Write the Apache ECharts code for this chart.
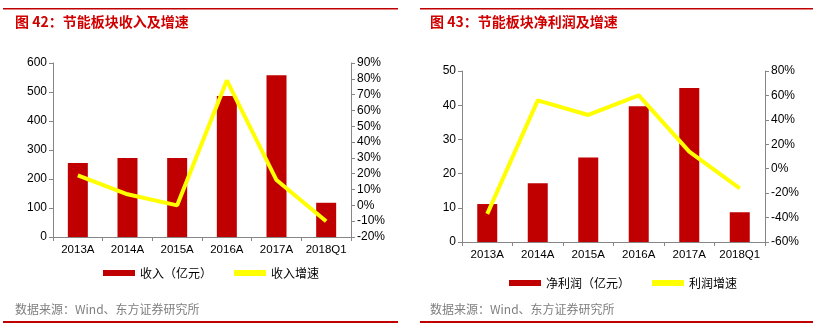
<!DOCTYPE html>
<html><head><meta charset="utf-8">
<script src="https://cdn.jsdelivr.net/npm/echarts@6/dist/echarts.min.js"></script>
<style>html,body{margin:0;padding:0;background:#fff}#c{width:820px;height:335px}</style>
</head><body><div id="c"></div>
<script>
const categories = ['2013A','2014A','2015A','2016A','2017A','2018Q1'];
const revenue = [255, 272, 272, 486, 558, 118];
const revenueGrowth = [19, 7, 0, 79, 16, -10];
const profit = [11.1, 17.2, 24.7, 39.7, 45.0, 8.7];
const profitGrowth = [-37, 56, 44, 60, 14, -16];
const leftTitle = '图 42：节能板块收入及增速';
const rightTitle = '图 43：节能板块净利润及增速';
const source = '数据来源：Wind、东方证券研究所';

const RED = '#C00000', YEL = '#FFFF00', AX = '#868686';
const tickFont = {color:'#000', fontSize:12, fontFamily:'Liberation Sans, Arial'};
const axisLine = {show:true, lineStyle:{color:AX}};
const chart = echarts.init(document.getElementById('c'));
function yAx(gi, pos, min, max, interval, pct){
  return {type:'value', gridIndex:gi, position:pos, min, max, interval,
    axisLine, axisTick:{show:true, length:4, lineStyle:{color:AX}}, splitLine:{show:false},
    axisLabel:Object.assign({margin:6, formatter: pct ? (v)=>v+'%' : '{value}'}, tickFont)};
}
function xAx(gi){
  return {type:'category', gridIndex:gi, data:categories, boundaryGap:true,
    axisLine, axisTick:{show:true, length:4, interval:0, lineStyle:{color:AX}},
    axisLabel:Object.assign({margin:7, interval:0}, tickFont, {fontSize:11.5})};
}
const legendText = {color:'#000', fontSize:12, fontFamily:'Noto Sans CJK SC'};
chart.setOption({
  animation:false,
  grid:[
    {left:53, top:63, width:298, height:174},
    {left:462, top:71, width:303, height:171}
  ],
  xAxis:[xAx(0), xAx(1)],
  yAxis:[
    yAx(0,'left',0,600,100,false),
    yAx(0,'right',-20,90,10,true),
    yAx(1,'left',0,50,10,false),
    yAx(1,'right',-60,80,20,true)
  ],
  legend:[
    {data:[{name:'收入（亿元）',icon:'rect'},{name:'收入增速',icon:'rect'}], left:98, top:262,
     itemWidth:32, itemHeight:6, itemGap:22, textStyle:legendText},
    {data:[{name:'净利润（亿元）',icon:'rect'},{name:'利润增速',icon:'rect'}], left:504, top:272,
     itemWidth:32, itemHeight:6, itemGap:22, textStyle:legendText}
  ],
  series:[
    {name:'收入（亿元）', type:'bar', xAxisIndex:0, yAxisIndex:0, data:revenue, barWidth:20, itemStyle:{color:RED}},
    {name:'收入增速', type:'line', xAxisIndex:0, yAxisIndex:1, data:revenueGrowth, symbol:'none', lineStyle:{color:YEL, width:4}, itemStyle:{color:YEL}},
    {name:'净利润（亿元）', type:'bar', xAxisIndex:1, yAxisIndex:2, data:profit, barWidth:20, itemStyle:{color:RED}},
    {name:'利润增速', type:'line', xAxisIndex:1, yAxisIndex:3, data:profitGrowth, symbol:'none', lineStyle:{color:YEL, width:4}, itemStyle:{color:YEL}}
  ],
  graphic:[
    {type:'rect', shape:{x:3, y:8, width:395, height:1.5}, style:{fill:RED}},
    {type:'rect', shape:{x:420, y:8, width:393, height:1.5}, style:{fill:RED}},
    {type:'text', x:15, y:15, style:{text:leftTitle, fill:'#D00000', font:'bold 14px "Noto Sans CJK SC"'}},
    {type:'text', x:430, y:15, style:{text:rightTitle, fill:'#D00000', font:'bold 14px "Noto Sans CJK SC"'}},
    {type:'text', x:15, y:303, style:{text:source, fill:'#7f7f7f', font:'12px "Noto Sans CJK SC"'}},
    {type:'text', x:430, y:303, style:{text:source, fill:'#7f7f7f', font:'12px "Noto Sans CJK SC"'}},
    {type:'rect', shape:{x:3, y:321, width:395, height:2}, style:{fill:RED}},
    {type:'rect', shape:{x:420, y:321, width:393, height:2}, style:{fill:RED}}
  ]
});
</script></body></html>
